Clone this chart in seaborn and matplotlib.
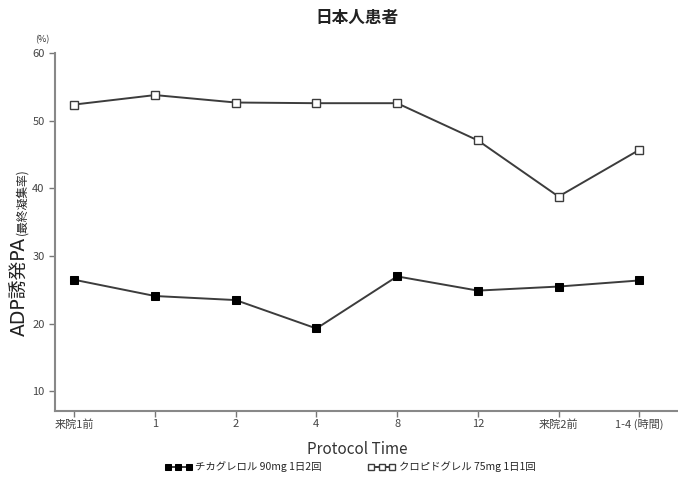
import numpy as np
import pandas as pd
import matplotlib
matplotlib.use("Agg")
import matplotlib.pyplot as plt
import seaborn as sns

# data
time_labels = ["来院1前", "1", "2", "4", "8", "12", "来院2前", "1-4 (時間)"]
ticagrelor = [26.5, 24.1, 23.5, 19.3, 27.0, 24.9, 25.5, 26.4]
clopidogrel = [52.4, 53.8, 52.7, 52.6, 52.6, 47.1, 38.8, 45.7]
series_names = ["チカグレロル 90mg 1日2回", "クロピドグレル 75mg 1日1回"]

sns.set_style("ticks")
plt.rcParams['font.family'] = ['Noto Sans CJK JP', 'DejaVu Sans']

pos = np.arange(len(time_labels))
df = pd.DataFrame({
    "pos": np.concatenate([pos, pos]),
    "value": ticagrelor + clopidogrel,
    "drug": [series_names[0]] * len(pos) + [series_names[1]] * len(pos),
})

fig = plt.figure(figsize=(6.78, 4.83), dpi=100)
ax = fig.add_axes([0.081, 0.149, 0.919, 0.741])

line_col = "#3c3c3c"
sns.lineplot(data=df[df.drug == series_names[0]], x="pos", y="value", ax=ax,
             color=line_col, marker="s", markersize=5.5, markerfacecolor="black",
             markeredgecolor="black", linewidth=1.4, label=series_names[0])
sns.lineplot(data=df[df.drug == series_names[1]], x="pos", y="value", ax=ax,
             color=line_col, marker="s", markersize=5.5, markerfacecolor="white",
             markeredgecolor=line_col, markeredgewidth=1.0, linewidth=1.4,
             label=series_names[1])

ax.set_xlim(-0.24, 7.48)
ax.set_ylim(7.1, 60)
ax.set_yticks([10, 20, 30, 40, 50, 60])
ax.set_xticks(pos)
ax.set_xticklabels(time_labels)
ax.tick_params(axis="both", labelsize=8, color="#777777", length=4, width=1,
               labelcolor="#444444")
ax.tick_params(axis="x", pad=2)
for side in ["top", "right"]:
    ax.spines[side].set_visible(False)
for side in ["left", "bottom"]:
    ax.spines[side].set_color("#888888")
    ax.spines[side].set_linewidth(1.5)

ax.set_xlabel("Protocol Time", fontsize=11, color="#333333")
ax.xaxis.set_label_coords((357 - 55) / 623, -0.085)
ax.set_ylabel("")

# y label with a smaller sub-part stacked above it
ylab = fig.text(20 / 678, 1 - 336 / 483, "ADP誘発PA", rotation=90, fontsize=13.5,
                family=['DejaVu Sans', 'Noto Sans CJK JP'],
                ha="center", va="bottom", color="#222222")
fig.canvas.draw()
bb = ylab.get_window_extent().transformed(fig.transFigure.inverted())
fig.text(22 / 678, bb.y1 + 0.003, "(最終凝集率)", rotation=90, fontsize=8.5,
         ha="center", va="bottom", color="#222222")
fig.text(42 / 678, 1 - 40 / 483, "(%)", fontsize=6.5, ha="center", va="center",
         color="#333333")

fig.text(357 / 678, 1 - 18 / 483, "日本人患者", fontsize=12, fontweight="bold",
         ha="center", va="center", color="#222222")

ax.legend(loc="center", bbox_to_anchor=(350 / 678, 1 - 467 / 483),
          bbox_transform=fig.transFigure, ncol=2, frameon=False, numpoints=3,
          handlelength=2.6, fontsize=7.5, columnspacing=4.5, handletextpad=0.3,
          markerscale=0.75)

fig.savefig("out.png", dpi=100)
